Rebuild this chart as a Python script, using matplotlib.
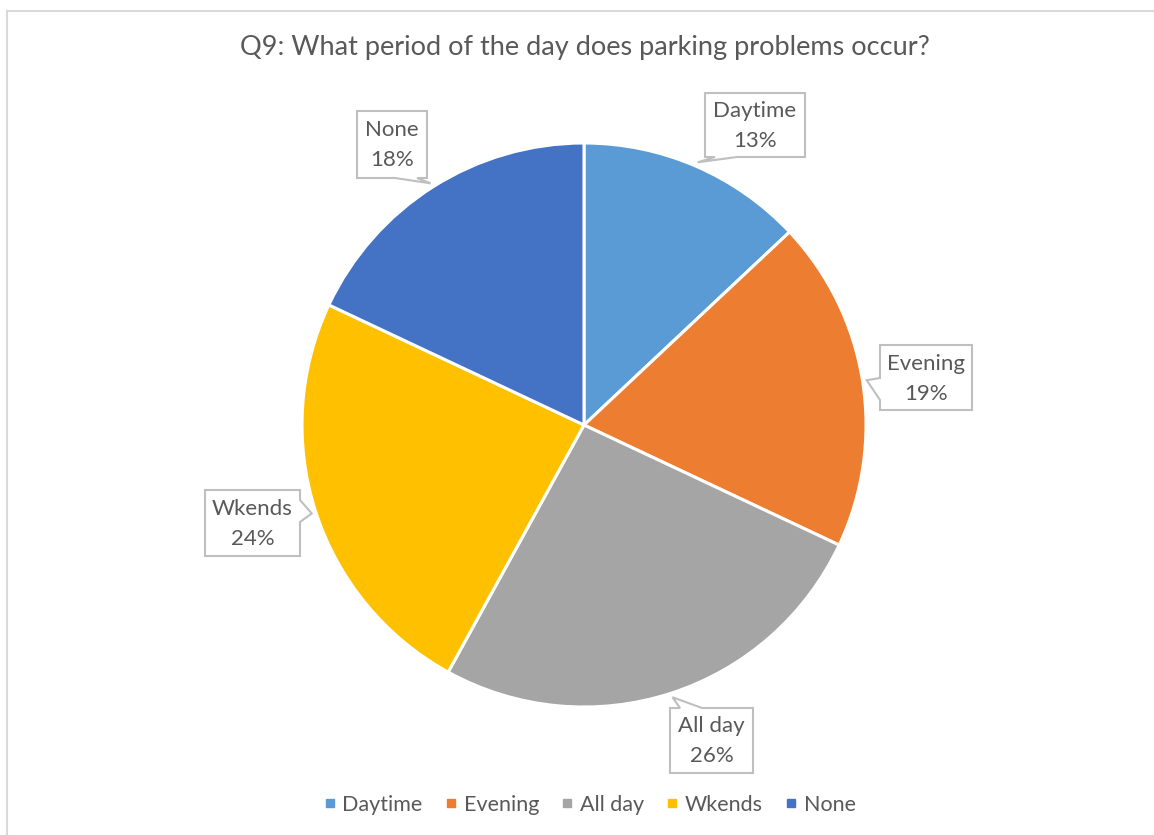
import numpy as np
import matplotlib
matplotlib.use("Agg")
import matplotlib.pyplot as plt
from matplotlib.patches import Polygon
from matplotlib.lines import Line2D

W, H = 1154, 835

# data
categories = ["Daytime", "Evening", "All day", "Wkends", "None"]
shares = [13, 19, 26, 24, 18]
colors = ["#5B9BD5", "#ED7D31", "#A5A5A5", "#FFC000", "#4472C4"]
title = "Q9: What period of the day does parking problems occur?"

# label box layout in pixels (x0, y0, x1, y1) and the side the pointer leaves from
boxes = {
    "Daytime": ((705, 93, 805, 157), "bottom"),
    "Evening": ((880, 345, 972, 410), "left"),
    "All day": ((670, 708, 753, 773), "top"),
    "Wkends": ((205, 490, 300, 556), "right"),
    "None": ((357, 111, 427, 178), "bottom"),
}

text_col = "#595959"
font = "Lato"
plt.rcParams["font.family"] = [font, "DejaVu Sans"]

fig = plt.figure(figsize=(W / 100, H / 100), dpi=100)
ax = fig.add_axes([0, 0, 1, 1])
ax.set_xlim(0, W)
ax.set_ylim(0, H)
ax.set_aspect("equal")
ax.axis("off")

def fy(y):
    return H - y

# chart area border (only top and left visible)
ax.add_line(Line2D([6.5, W], [fy(10.5), fy(10.5)], color="#D9D9D9", lw=1.5))
ax.add_line(Line2D([6.5, 6.5], [fy(10.5), 0], color="#D9D9D9", lw=1.5))

ax.text(585, fy(47), title, ha="center", va="center", fontsize=19.5, color=text_col)

cx, cy, r = 584, 425, 282
wedges, _ = ax.pie(shares, colors=colors, startangle=90, counterclock=False,
                   center=(cx, fy(cy)), radius=r,
                   wedgeprops=dict(edgecolor="white", linewidth=2.2))
ax.set_xlim(0, W)
ax.set_ylim(0, H)

def callout(box, side, tip):
    x0, y0, x1, y1 = box
    tx, ty = tip
    off, bw = 10, 22
    if side in ("bottom", "top"):
        if tx < (x0 + x1) / 2:
            b1, b2 = x0 + off, x0 + off + bw
        else:
            b1, b2 = x1 - off - bw, x1 - off
        if side == "bottom":
            pts = [(x0, y0), (x1, y0), (x1, y1), (b2, y1), (tx, ty), (b1, y1), (x0, y1)]
        else:
            pts = [(x0, y0), (b1, y0), (tx, ty), (b2, y0), (x1, y0), (x1, y1), (x0, y1)]
    else:
        if ty < (y0 + y1) / 2:
            b1, b2 = y0 + off, y0 + off + bw
        else:
            b1, b2 = y1 - off - bw, y1 - off
        if side == "left":
            pts = [(x0, y0), (x1, y0), (x1, y1), (x0, y1), (x0, b2), (tx, ty), (x0, b1)]
        else:
            pts = [(x0, y0), (x1, y0), (x1, b1), (tx, ty), (x1, b2), (x1, y1), (x0, y1)]
    pts = [(px, fy(py)) for px, py in pts]
    ax.add_patch(Polygon(pts, closed=True, facecolor="white", edgecolor="#BFBFBF",
                         lw=1.5, zorder=5))

total = sum(shares)
cum = 0
for cat, val in zip(categories, shares):
    mid = (cum + val / 2) / total * 2 * np.pi
    cum += val
    tip = (cx + r * 1.015 * np.sin(mid), cy - r * 1.015 * np.cos(mid))
    box, side = boxes[cat]
    callout(box, side, tip)
    bx = (box[0] + box[2]) / 2
    by = (box[1] + box[3]) / 2
    ax.text(bx, fy(by - 14), cat, ha="center", va="center", fontsize=16,
            color=text_col, zorder=6)
    ax.text(bx, fy(by + 16), f"{round(100 * val / total)}%", ha="center", va="center",
            fontsize=16, color=text_col, zorder=6)

handles = [Line2D([], [], marker="s", ls="none", markersize=6, color=c) for c in colors]
leg = ax.legend(handles, categories, loc="center", bbox_to_anchor=(590 / W, 1 - 805 / H),
                ncol=5, frameon=False, fontsize=15.5, handlelength=0.5,
                handletextpad=0.35, columnspacing=1.05)
for t in leg.get_texts():
    t.set_color(text_col)

fig.savefig("out.png", dpi=100)
